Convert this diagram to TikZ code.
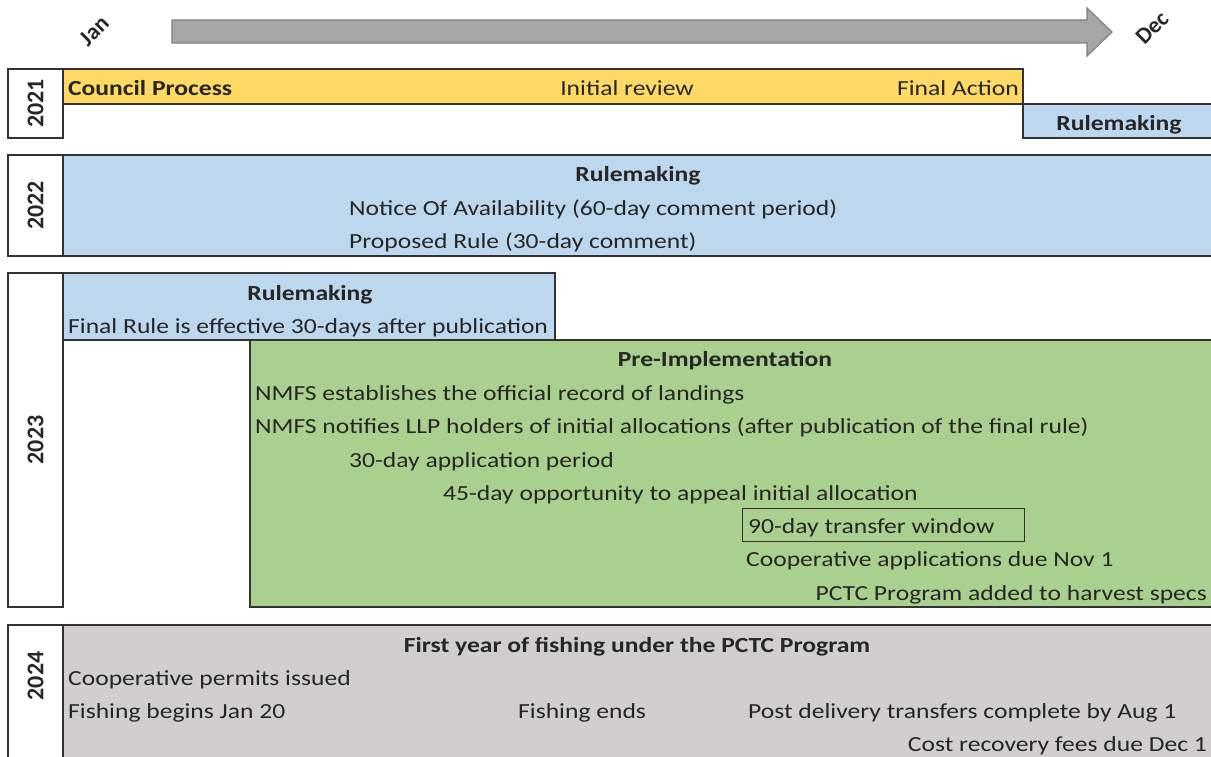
\documentclass[tikz,border=0pt]{standalone}
\usepackage{fontspec}
\setmainfont{Carlito}[FakeStretch=1.19]
\newfontfamily\plainfont{Carlito}
\definecolor{yel}{HTML}{FFD966}
\definecolor{blu}{HTML}{BDD7EE}
\definecolor{grn}{HTML}{A9D08E}
\definecolor{gry}{HTML}{D0CECE}
\definecolor{arrowfill}{HTML}{A6A6A6}
\definecolor{arrowline}{HTML}{7F7F7F}
\definecolor{ink}{HTML}{262626}
\definecolor{edge}{HTML}{333333}
\tikzset{
  bx/.style={draw=edge, line width=1.6pt, anchor=north west, inner sep=0pt, outer sep=0pt},
  txt/.style={text=ink, inner sep=0pt, font=\fontsize{21.5}{25}\selectfont},
  btxt/.style={txt, font=\fontsize{21.5}{25}\selectfont\bfseries},
  yr/.style={text=ink, inner sep=0pt, font=\plainfont\fontsize{24}{28}\selectfont\bfseries, rotate=90},
  mon/.style={text=ink, inner sep=0pt, font=\plainfont\fontsize{23}{27}\selectfont\bfseries, rotate=45},
}
\begin{document}
\begin{tikzpicture}[x=1pt,y=-1pt]
\useasboundingbox (0,0) rectangle (1211,757);
\clip (0,0) rectangle (1211,757);
% timeline arrow
\draw[fill=arrowfill, draw=arrowline, line width=1.2pt, line join=miter]
  (172,20) -- (1087,20) -- (1087,8) -- (1112,32) -- (1087,56) -- (1087,43) -- (172,43) -- cycle;
\node[mon] (jan) at (94,31) {Jan};
\node[mon] (dec) at (1152,28) {Dec};

% 2021
\node[bx, fill=white, minimum width=55, minimum height=69] (y21) at (8,69) {};
\node[yr] (y21t) at (y21.center) {2021};
\node[bx, fill=yel, minimum width=960, minimum height=35] (cp) at (63,69) {};
\node[bx, fill=blu, minimum width=190, minimum height=34] (rm21) at (1023,104) {};
\node[btxt, anchor=base west] (cpt) at (68,96) {Council Process};
\node[txt, anchor=base] (ir) at (627,96) {Initial review};
\node[txt, anchor=base east] (fa) at (1019,96) {Final Action};
\node[btxt, anchor=base] (rm21t) at (1119,131) {Rulemaking};

% 2022
\node[bx, fill=white, minimum width=55, minimum height=101] (y22) at (8,155) {};
\node[yr] (y22t) at (y22.center) {2022};
\node[bx, fill=blu, minimum width=1150, minimum height=101] (rm22) at (63,155) {};
\node[btxt, anchor=base] (rm22t) at (638,182) {Rulemaking};
\node[txt, anchor=base west] (noa) at (349,215) {Notice Of Availability (60-day comment period)};
\node[txt, anchor=base west] (pr) at (349,248) {Proposed Rule (30-day comment)};

% 2023
\node[bx, fill=white, minimum width=55, minimum height=334] (y23) at (8,273) {};
\node[yr] (y23t) at (y23.center) {2023};
\node[bx, fill=blu, minimum width=492, minimum height=67] (rm23) at (63,273) {};
\node[btxt, anchor=base] (rm23t) at (310,300) {Rulemaking};
\node[txt, anchor=base west] (fr) at (68,333) {Final Rule is effective 30-days after publication};
\node[bx, fill=grn, minimum width=963, minimum height=267] (pi) at (250,340) {};
\node[btxt, anchor=base] (pit) at (725,366) {Pre-Implementation};
\node[txt, anchor=base west] (n1) at (255,400) {NMFS establishes the official record of landings};
\node[txt, anchor=base west] (n2) at (255,433) {NMFS notifies LLP holders of initial allocations (after publication of the final rule)};
\node[txt, anchor=base west] (n3) at (349,467) {30-day application period};
\node[txt, anchor=base west] (n4) at (443,500) {45-day opportunity to appeal initial allocation};
\node[draw=edge, line width=1.2pt, anchor=north west, minimum width=282, minimum height=33, inner sep=0pt] (tw) at (742,508) {};
\node[txt, anchor=base west] (twt) at (748,533) {90-day transfer window};
\node[txt, anchor=base west] (n6) at (746,566) {Cooperative applications due Nov 1};
\node[txt, anchor=base east] (n7) at (1207,600) {PCTC Program added to harvest specs};

% 2024
\node[bx, fill=white, minimum width=55, minimum height=150] (y24) at (8,625) {};
\node[yr] (y24t) at (35.5,676) {2024};
\node[bx, fill=gry, minimum width=1150, minimum height=150] (fy) at (63,625) {};
\node[btxt, anchor=base] (fyt) at (637,652) {First year of fishing under the PCTC Program};
\node[txt, anchor=base west] (c1) at (68,685) {Cooperative permits issued};
\node[txt, anchor=base west] (c2) at (68,718) {Fishing begins Jan 20};
\node[txt, anchor=base west] (c3) at (518,718) {Fishing ends};
\node[txt, anchor=base west] (c4) at (748,718) {Post delivery transfers complete by Aug 1};
\node[txt, anchor=base east] (c5) at (1207,751) {Cost recovery fees due Dec 1};
\end{tikzpicture}
\end{document}
